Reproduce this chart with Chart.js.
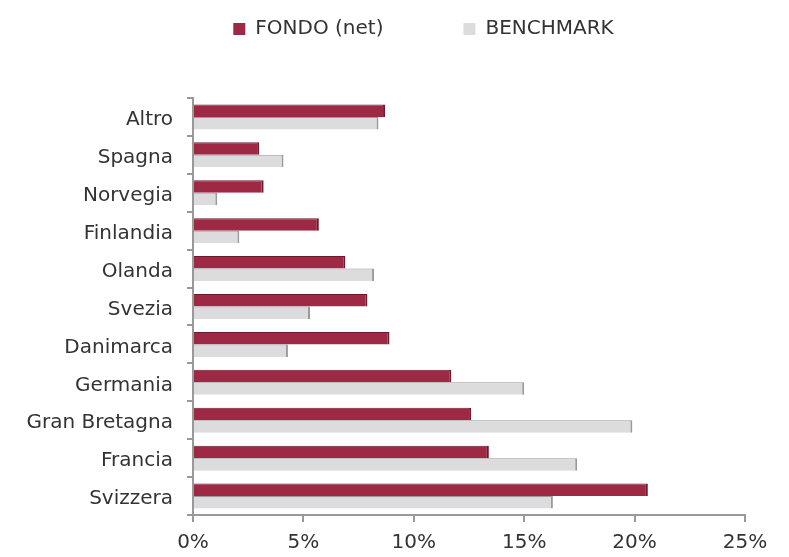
<!DOCTYPE html>
<html>
<head>
<meta charset="utf-8">
<script src="https://cdn.jsdelivr.net/npm/chart.js@4/dist/chart.umd.min.js"></script>
<style>
html,body{margin:0;padding:0;background:#fff;}
#wrap{width:789px;height:557px;position:relative;}
</style>
</head>
<body>
<div id="wrap"><canvas id="c" width="789" height="557"></canvas></div>
<script>
const categories = ['Altro','Spagna','Norvegia','Finlandia','Olanda','Svezia','Danimarca','Germania','Gran Bretagna','Francia','Svizzera'];
const fondo = [8.7, 3.0, 3.2, 5.7, 6.9, 7.9, 8.9, 11.7, 12.6, 13.4, 20.6];
const benchmark = [8.4, 4.1, 1.1, 2.1, 8.2, 5.3, 4.3, 15.0, 19.9, 17.4, 16.3];
const xTicks = [0, 5, 10, 15, 20, 25];

const FONT = "'DejaVu Sans', sans-serif";
const LEGEND_GAP = 80;      // horizontal gap between legend items
const LEGEND_TOP = 19;      // y of legend item top
const LEGEND_SHIFT_X = 51;  // horizontal nudge of the legend row

const legendLayoutPlugin = {
  id: 'legendLayout',
  beforeInit(chart) {
    const orig = chart.legend.fit;
    chart.legend.fit = function () {
      orig.call(this);
      this.height = 98;
    };
  },
  afterLayout(chart) {
    const lg = chart.legend;
    lg.top = LEGEND_TOP - LEGEND_GAP;
    lg.left += LEGEND_SHIFT_X;
    lg.right += LEGEND_SHIFT_X;
  }
};

new Chart(document.getElementById('c'), {
  type: 'bar',
  data: {
    labels: categories,
    datasets: [
      {
        label: 'FONDO (net)',
        data: fondo,
        backgroundColor: '#9e2944',
        borderColor: '#6e1a2e',
        borderWidth: {top: 1, right: 2, bottom: 0, left: 0},
        borderSkipped: false,
        categoryPercentage: 0.66,
        barPercentage: 1.0
      },
      {
        label: 'BENCHMARK',
        data: benchmark,
        backgroundColor: '#dcdcde',
        borderColor: '#9a9a9c',
        borderWidth: {top: 1, right: 2, bottom: 0, left: 0},
        borderSkipped: false,
        categoryPercentage: 0.66,
        barPercentage: 1.0
      }
    ]
  },
  options: {
    indexAxis: 'y',
    responsive: false,
    animation: false,
    layout: {padding: {left: 0, right: 44, top: 0, bottom: 0}},
    plugins: {
      legend: {
        position: 'top',
        align: 'center',
        labels: {
          font: {family: FONT, size: 20},
          color: '#333',
          boxWidth: 12,
          boxHeight: 12,
          padding: LEGEND_GAP,
          generateLabels(chart) {
            return chart.data.datasets.map((ds, i) => ({
              text: ds.label,
              fillStyle: ds.backgroundColor,
              strokeStyle: ds.backgroundColor,
              lineWidth: 0,
              hidden: false,
              datasetIndex: i,
              fontColor: '#333'
            }));
          }
        }
      },
      tooltip: {enabled: false}
    },
    scales: {
      x: {
        min: 0,
        max: 25,
        afterBuildTicks(scale) { scale.ticks = xTicks.map(v => ({value: v})); },
        afterFit(scale) { scale.height = 42; },
        ticks: {
          callback: v => v + '%',
          font: {family: FONT, size: 20},
          color: '#333',
          padding: 9,
          maxRotation: 0
        },
        grid: {drawOnChartArea: false, drawTicks: true, tickLength: 7, color: '#999', lineWidth: 2},
        border: {display: true, color: '#999', width: 2}
      },
      y: {
        afterFit(scale) { scale.width = 193; },
        ticks: {
          font: {family: FONT, size: 20},
          color: '#333',
          padding: 14,
          labelOffset: 3
        },
        grid: {drawOnChartArea: false, drawTicks: true, tickLength: 6, color: '#999', lineWidth: 2, offset: true},
        border: {display: true, color: '#999', width: 2}
      }
    }
  },
  plugins: [legendLayoutPlugin]
});
</script>
</body>
</html>
